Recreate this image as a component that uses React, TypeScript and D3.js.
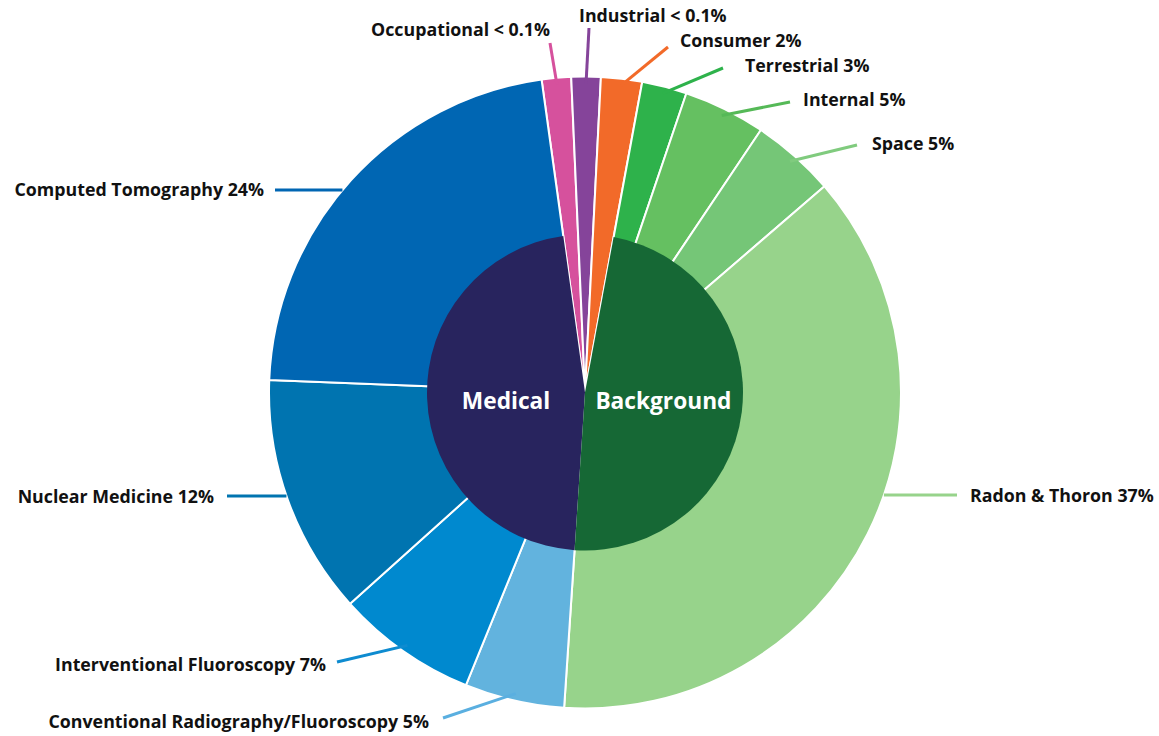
import React from "react";
import { pie, arc, PieArcDatum } from "d3";

// outer ring, clockwise from the top
const sources = [
  "Occupational",
  "Industrial",
  "Consumer",
  "Terrestrial",
  "Internal",
  "Space",
  "Radon & Thoron",
  "Conventional Radiography/Fluoroscopy",
  "Interventional Fluoroscopy",
  "Nuclear Medicine",
  "Computed Tomography",
];
// share of the ring as drawn (percent)
const shares = [1.5, 1.5, 2.1, 2.3, 4.2, 4.3, 37.4, 5.1, 7.2, 12.3, 22.2];
const shareText = ["< 0.1%", "< 0.1%", "2%", "3%", "5%", "5%", "37%", "5%", "7%", "12%", "24%"];
const sourceGroup = [
  "Other",
  "Other",
  "Other",
  "Background",
  "Background",
  "Background",
  "Background",
  "Medical",
  "Medical",
  "Medical",
  "Medical",
];
const sourceColors = [
  "#d6519d",
  "#85449a",
  "#f26a29",
  "#2eb24b",
  "#65c061",
  "#75c677",
  "#97d38b",
  "#62b3de",
  "#0089cf",
  "#0074b0",
  "#0066b3",
];
const leaderColors = [
  "#d6519d",
  "#85449a",
  "#f26a29",
  "#2eb24b",
  "#55b957",
  "#80cb7e",
  "#97d38b",
  "#5aafe0",
  "#0e8bd0",
  "#0074b0",
  "#0066b3",
];

const groups = ["Medical", "Background"];
const groupColors = ["#28245e", "#166835"];

const W = 1159;
const H = 736;
const CX = 585;
const CY = 392.5;
const R = 316;
const R_IN = 158;
const START = (-7.9 * Math.PI) / 180;

// label placement: text anchor point and where the leader leaves the label
type Place = {
  x: number;
  y: number;
  anchor: "start" | "end";
  lx: number;
  ly: number;
  flat?: boolean;
};
const places: Place[] = [
  { x: 550, y: 29, anchor: "end", lx: 550, ly: 43 },
  { x: 579, y: 15, anchor: "start", lx: 589, ly: 28 },
  { x: 680, y: 40, anchor: "start", lx: 668, ly: 47 },
  { x: 745, y: 65, anchor: "start", lx: 723, ly: 68 },
  { x: 803, y: 99, anchor: "start", lx: 790, ly: 102 },
  { x: 872, y: 143, anchor: "start", lx: 857, ly: 145 },
  { x: 970, y: 495, anchor: "start", lx: 957, ly: 495, flat: true },
  { x: 429, y: 721, anchor: "end", lx: 443, ly: 718 },
  { x: 326, y: 664, anchor: "end", lx: 337, ly: 662 },
  { x: 214, y: 496, anchor: "end", lx: 227, ly: 496, flat: true },
  { x: 264, y: 189, anchor: "end", lx: 275, ly: 190, flat: true },
];

const FONT = "'Open Sans', 'Liberation Sans', sans-serif";

export default function App() {
  const pieGen = pie<number>()
    .sort(null)
    .startAngle(START)
    .endAngle(START + Math.PI * 2);
  const slices = pieGen(shares);

  const outerArc = arc<PieArcDatum<number>>().innerRadius(0).outerRadius(R);

  // inner ring spans the slices of each group
  const innerArc = arc<{ startAngle: number; endAngle: number }>()
    .innerRadius(0)
    .outerRadius(R_IN);
  const inner = groups.map((g) => {
    const members = slices.filter((_, i) => sourceGroup[i] === g);
    const startAngle = Math.min(...members.map((s) => s.startAngle));
    const endAngle = Math.max(...members.map((s) => s.endAngle));
    return { name: g, startAngle, endAngle };
  });

  const leaderEnd = (i: number) => {
    const p = places[i];
    if (p.flat) {
      const dy = p.ly - CY;
      const dx = Math.sqrt(R * R - dy * dy);
      return [p.anchor === "start" ? CX + dx : CX - dx, p.ly];
    }
    const s = slices[i];
    const a = (s.startAngle + s.endAngle) / 2;
    const r = R - 7;
    return [CX + r * Math.sin(a), CY - r * Math.cos(a)];
  };

  return (
    <svg
      width={W}
      height={H}
      style={{ position: "absolute", left: 0, top: 0, background: "#fff" }}
    >
      <g transform={`translate(${CX},${CY})`}>
        {slices.map((s, i) => (
          <path
            key={sources[i]}
            d={outerArc(s) ?? ""}
            fill={sourceColors[i]}
            stroke="#fff"
            strokeWidth={2}
            strokeLinejoin="round"
          />
        ))}
        {inner.map((d, i) => (
          <path key={d.name} d={innerArc(d) ?? ""} fill={groupColors[i]} />
        ))}
      </g>

      {/* leaders */}
      {places.map((p, i) => {
        const [ex, ey] = leaderEnd(i);
        return (
          <line
            key={`l-${i}`}
            x1={p.lx}
            y1={p.ly}
            x2={ex}
            y2={ey}
            stroke={leaderColors[i]}
            strokeWidth={3}
          />
        );
      })}

      {/* outer labels */}
      {places.map((p, i) => (
        <text
          key={`t-${i}`}
          x={p.x}
          y={p.y}
          textAnchor={p.anchor}
          dominantBaseline="central"
          fontFamily={FONT}
          fontWeight={700}
          fontSize={17.8}
          fill="#111"
        >
          {`${sources[i]} ${shareText[i]}`}
        </text>
      ))}

      {/* group labels */}
      {inner.map((d) => {
        const [x] = innerArc.centroid(d);
        return (
          <text
            key={`g-${d.name}`}
            x={CX + x}
            y={CY + 8}
            textAnchor="middle"
            dominantBaseline="central"
            fontFamily={FONT}
            fontWeight={700}
            fontSize={22.7}
            fill="#fff"
          >
            {d.name}
          </text>
        );
      })}
    </svg>
  );
}
